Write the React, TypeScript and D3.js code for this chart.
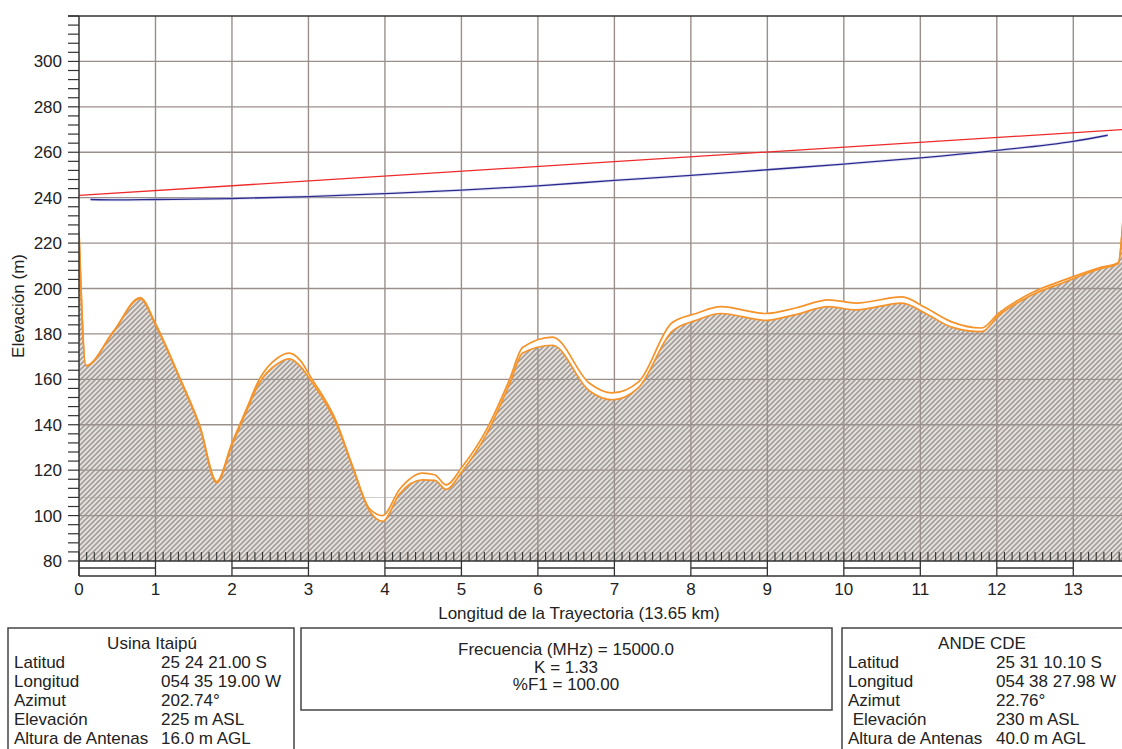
import React from "react";
import * as d3 from "d3";

// ---- data ----
const profileKm = [0.0, 0.09, 0.45, 0.8, 1.0, 1.32, 1.58, 1.8, 2.0, 2.19, 2.35, 2.6, 2.75, 2.9, 3.02, 3.37, 3.58, 3.8, 3.97, 4.19, 4.49, 4.65, 4.8, 5.01, 5.33, 5.63, 5.8, 6.19, 6.67, 6.97, 7.32, 7.75, 8.07, 8.39, 8.98, 9.37, 9.8, 10.16, 10.76, 11.07, 11.41, 11.8, 12.02, 12.45, 12.9, 13.33, 13.59, 13.65];
const groundM = [225, 166, 181, 195.5, 184, 160, 139, 114.5, 131, 146, 158, 167, 169, 165.5, 160, 140, 121, 102, 97.5, 109.5, 115.7, 115.5, 111.5, 119.5, 136, 158, 171.6, 175, 155, 151, 156.5, 181, 186, 189, 186, 188.5, 192, 190.6, 193.6, 189, 183, 181, 188, 197, 203, 208.5, 211, 230];
const clutterTopM = [225, 166, 181, 196, 184.5, 160.5, 139.5, 115, 132, 147, 159.5, 169.5, 171.5, 168, 161.5, 141, 121.5, 103, 100, 111.5, 118.7, 118, 113.5, 121.5, 138, 160, 174, 178.6, 158.4, 154, 159, 184.8, 189, 192, 189, 191.4, 195, 193.6, 196.3, 191.5, 185.3, 182.6, 189, 198, 204, 209, 211.5, 230];

const losKm = [0, 13.65];
const losM = [241, 270];

const fresnelKm = [0.15, 0.5, 1, 2, 3, 4, 5, 6, 7, 8, 9, 10, 11, 12, 13, 13.45];
const fresnelM = [239.2, 239.0, 239.2, 239.6, 240.5, 241.8, 243.3, 245.2, 247.6, 249.8, 252.3, 254.8, 257.5, 260.8, 264.8, 267.5];

const xTickValues = [0, 1, 2, 3, 4, 5, 6, 7, 8, 9, 10, 11, 12, 13];
const yTickValues = [80, 100, 120, 140, 160, 180, 200, 220, 240, 260, 280, 300];
const referenceLevelM = 108;

const xTitle = "Longitud de la Trayectoria (13.65 km)";
const yTitle = "Elevación (m)";

const siteATitle = "Usina Itaipú";
const siteALabels = ["Latitud", "Longitud", "Azimut", "Elevación", "Altura de Antenas"];
const siteAValues = ["25 24 21.00 S", "054 35 19.00 W", "202.74°", "225 m ASL", "16.0 m AGL"];
const siteBTitle = "ANDE CDE";
const siteBLabels = ["Latitud", "Longitud", "Azimut", " Elevación", "Altura de Antenas"];
const siteBValues = ["25 31 10.10 S", "054 38 27.98 W", "22.76°", "230 m ASL", "40.0 m AGL"];
const linkParams = ["Frecuencia (MHz) = 15000.0", "K = 1.33", "%F1 = 100.00"];

// ---- layout ----
const W = 1122, H = 749;
const L = 79, R = 1123, T = 16, B = 561;
const FONT = "'Liberation Sans', Arial, Helvetica, sans-serif";
const FS = 17;
const GRID = "#9a908b";
const INK = "#333";
const TXT = "#222";
const ORANGE = "#f5932a";

export default function App() {
  const x = d3.scaleLinear().domain([0, 13.65]).range([L, R]);
  const y = d3.scaleLinear().domain([80, 320]).range([B, T]);

  const idx = d3.range(profileKm.length);
  const curve = d3.curveMonotoneX;
  const groundArea = d3.area<number>().x(i => x(profileKm[i])).y0(y(80)).y1(i => y(groundM[i])).curve(curve)(idx) || "";
  const bandArea = d3.area<number>().x(i => x(profileKm[i])).y0(i => y(groundM[i])).y1(i => y(clutterTopM[i])).curve(curve)(idx) || "";
  const groundLine = d3.line<number>().x(i => x(profileKm[i])).y(i => y(groundM[i])).curve(curve)(idx) || "";
  const topLine = d3.line<number>().x(i => x(profileKm[i])).y(i => y(clutterTopM[i])).curve(curve)(idx) || "";
  const los = d3.line<number>().x(i => x(losKm[i])).y(i => y(losM[i]))(d3.range(losKm.length)) || "";
  const fres = d3.line<number>().x(i => x(fresnelKm[i])).y(i => y(fresnelM[i])).curve(d3.curveMonotoneX)(d3.range(fresnelKm.length)) || "";

  const yMinor = d3.range(80, 321, 4);
  const xMinor = d3.range(0, 137).map(v => v / 10);
  const barTop = B, barMid = B + 7, barBot = B + 15;

  const rowY = [668, 687, 706, 725, 744];

  return (
    <svg width={W} height={H} style={{ position: "absolute", left: 0, top: 0, background: "#fff" }} fontFamily={FONT}>
      <defs>
        <pattern id="hatch" patternUnits="userSpaceOnUse" width={5} height={5}>
          <rect width={5} height={5} fill="#e8e5e3" />
          <path d="M-1.25,1.25 l2.5,-2.5 M0,5 l5,-5 M3.75,6.25 l2.5,-2.5" stroke="#a7a19d" strokeWidth={1.9} />
        </pattern>
        <clipPath id="plot">
          <rect x={L} y={T} width={R - L} height={B - T} />
        </clipPath>
      </defs>

      <g clipPath="url(#plot)">
        <path d={groundArea} fill="url(#hatch)" />
        {yTickValues.filter(v => v > 80).map(v => (
          <line key={"gy" + v} x1={L} x2={R} y1={y(v)} y2={y(v)} stroke={GRID} strokeWidth={1.4} />
        ))}
        <line x1={L} x2={R} y1={y(referenceLevelM)} y2={y(referenceLevelM)} stroke={GRID} strokeWidth={0.8} opacity={0.6} />
        {xTickValues.filter(v => v > 0).map(v => (
          <line key={"gx" + v} x1={x(v)} x2={x(v)} y1={T} y2={B} stroke={GRID} strokeWidth={1.4} />
        ))}
        <path d={bandArea} fill="#fff" />
        <path d={groundLine} fill="none" stroke={ORANGE} strokeWidth={1.7} />
        <path d={topLine} fill="none" stroke={ORANGE} strokeWidth={1.7} />
        <path d={fres} fill="none" stroke="#c8c8ea" strokeWidth={3} opacity={0.5} />
        <path d={fres} fill="none" stroke="#2b2b8f" strokeWidth={1.3} />
        <path d={los} fill="none" stroke="#ee2a2a" strokeWidth={1.3} />
      </g>

      <line x1={68} x2={R} y1={T} y2={T} stroke={INK} strokeWidth={1.5} />
      <line x1={L} x2={L} y1={T} y2={barBot} stroke={INK} strokeWidth={1.5} />
      {yMinor.map(v => (
        <line key={"ty" + v} x1={68} x2={L} y1={y(v)} y2={y(v)} stroke={INK} strokeWidth={1.2} />
      ))}
      {yTickValues.map(v => (
        <text key={"ly" + v} x={62} y={y(v) + 6} textAnchor="end" fontSize={FS} fill={TXT}>{v}</text>
      ))}
      <text transform={`translate(24,306) rotate(-90)`} textAnchor="middle" fontSize={FS} fill={TXT}>{yTitle}</text>

      {xMinor.map(v => (
        <line key={"tx" + v} x1={x(v)} x2={x(v)} y1={barTop - 9} y2={barTop} stroke={INK} strokeWidth={1.1} />
      ))}
      <line x1={L} x2={R} y1={barTop} y2={barTop} stroke={INK} strokeWidth={1.5} />
      <line x1={L} x2={R} y1={barBot} y2={barBot} stroke={INK} strokeWidth={1.5} />
      {xTickValues.filter(v => v % 2 === 0).map(v => (
        <line key={"bm" + v} x1={x(v)} x2={x(Math.min(v + 1, 13.65))} y1={barMid} y2={barMid} stroke={INK} strokeWidth={1.3} />
      ))}
      {xTickValues.map(v => (
        <line key={"bv" + v} x1={x(v)} x2={x(v)} y1={barTop} y2={barBot} stroke={INK} strokeWidth={1.3} />
      ))}
      {xTickValues.map(v => (
        <text key={"lx" + v} x={x(v)} y={595} textAnchor="middle" fontSize={FS} fill={TXT}>{v}</text>
      ))}
      <text x={579} y={619} textAnchor="middle" fontSize={FS} fill={TXT}>{xTitle}</text>

      <rect x={8} y={628} width={286} height={140} fill="none" stroke="#444" strokeWidth={1.5} />
      <text x={152} y={649} textAnchor="middle" fontSize={FS} fill={TXT}>{siteATitle}</text>
      {siteALabels.map((t, i) => (
        <text key={"al" + i} x={14} y={rowY[i]} fontSize={FS} fill={TXT}>{t}</text>
      ))}
      {siteAValues.map((t, i) => (
        <text key={"av" + i} x={161} y={rowY[i]} fontSize={FS} fill={TXT}>{t}</text>
      ))}

      <rect x={301} y={628} width={531} height={82} fill="none" stroke="#444" strokeWidth={1.5} />
      {linkParams.map((t, i) => (
        <text key={"lp" + i} x={566} y={655 + i * 17.5} textAnchor="middle" fontSize={FS} fill={TXT}>{t}</text>
      ))}

      <rect x={842} y={628} width={300} height={140} fill="none" stroke="#444" strokeWidth={1.5} />
      <text x={982} y={649} textAnchor="middle" fontSize={FS} fill={TXT}>{siteBTitle}</text>
      {siteBLabels.map((t, i) => (
        <text key={"bl" + i} x={848} y={rowY[i]} fontSize={FS} fill={TXT} style={{ whiteSpace: "pre" }}>{t}</text>
      ))}
      {siteBValues.map((t, i) => (
        <text key={"bvv" + i} x={996} y={rowY[i]} fontSize={FS} fill={TXT}>{t}</text>
      ))}
    </svg>
  );
}
